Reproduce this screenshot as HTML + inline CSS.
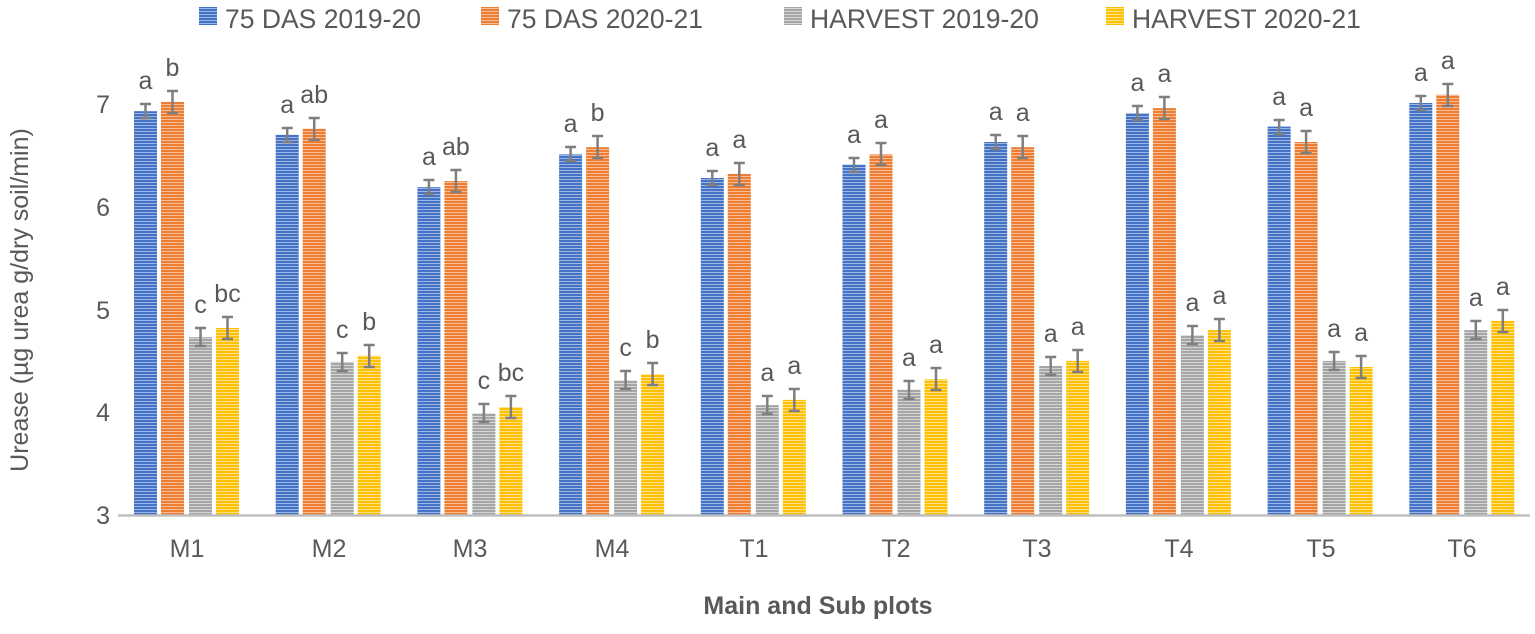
<!DOCTYPE html>
<html><head><meta charset="utf-8"><style>
body{margin:0;background:#fff}
svg text{font-family:"Liberation Sans",sans-serif;fill:#595959}
</style></head><body>
<svg width="1535" height="629" viewBox="0 0 1535 629" xmlns="http://www.w3.org/2000/svg">
<defs>
<pattern id="pb" width="4" height="3" patternUnits="userSpaceOnUse"><rect width="4" height="3" fill="#4472c4"/><rect y="2" width="4" height="1" fill="#9db5e3"/></pattern>
<pattern id="po" width="4" height="3" patternUnits="userSpaceOnUse"><rect width="4" height="3" fill="#ed7d31"/><rect y="2" width="4" height="1" fill="#f6bd98"/></pattern>
<pattern id="pg" width="4" height="3" patternUnits="userSpaceOnUse"><rect width="4" height="3" fill="#a5a5a5"/><rect y="2" width="4" height="1" fill="#d5d5d5"/></pattern>
<pattern id="py" width="4" height="3" patternUnits="userSpaceOnUse"><rect width="4" height="3" fill="#ffc000"/><rect y="2" width="4" height="1" fill="#ffe08a"/></pattern>
</defs>
<!-- legend -->
<rect x="199" y="7" width="18" height="18" fill="url(#pb)"/><text x="225" y="28" font-size="26.5">75 DAS 2019-20</text>
<rect x="481" y="7" width="18" height="18" fill="url(#po)"/><text x="507" y="28" font-size="26.5">75 DAS 2020-21</text>
<rect x="784" y="7" width="18" height="18" fill="url(#pg)"/><text x="810" y="28" font-size="26.5">HARVEST 2019-20</text>
<rect x="1106" y="7" width="18" height="18" fill="url(#py)"/><text x="1132" y="28" font-size="26.5">HARVEST 2020-21</text>
<!-- y ticks -->
<g font-size="25" text-anchor="end">
<text x="110" y="524">3</text><text x="110" y="421">4</text><text x="110" y="319">5</text><text x="110" y="216">6</text><text x="110" y="113">7</text>
</g>
<text transform="translate(28,300) rotate(-90)" font-size="25" text-anchor="middle">Urease (µg urea g/dry soil/min)</text>
<text x="818" y="614" font-size="25" font-weight="bold" text-anchor="middle">Main and Sub plots</text>
<g font-size="25" text-anchor="middle">
<g transform="translate(187,0)">
<rect x="-53" y="111.2" width="23" height="403.8" fill="url(#pb)"/><rect x="-26" y="101.9" width="23" height="413.1" fill="url(#po)"/><rect x="2" y="337.2" width="23" height="177.8" fill="url(#pg)"/><rect x="29" y="328" width="23" height="187" fill="url(#py)"/>
<path d="M-41.5 104v14M-47 104h11M-47 118h11M-14.5 91v22M-20 91h11M-20 113h11M13.5 328v18M8 328h11M8 346h11M40.5 317v22M35 317h11M35 339h11" stroke="#7f7f7f" stroke-width="2.5"/>
<text x="-41.5" y="89">a</text><text x="-14.5" y="76">b</text><text x="13.5" y="313">c</text><text x="40.5" y="302">bc</text>
</g>
<g transform="translate(328.7,0)">
<rect x="-53" y="134.8" width="23" height="380.2" fill="url(#pb)"/><rect x="-26" y="128.7" width="23" height="386.3" fill="url(#po)"/><rect x="2" y="361.9" width="23" height="153.1" fill="url(#pg)"/><rect x="29" y="355.7" width="23" height="159.3" fill="url(#py)"/>
<path d="M-41.5 128v14M-47 128h11M-47 142h11M-14.5 118v22M-20 118h11M-20 140h11M13.5 353v18M8 353h11M8 371h11M40.5 345v22M35 345h11M35 367h11" stroke="#7f7f7f" stroke-width="2.5"/>
<text x="-41.5" y="113">a</text><text x="-14.5" y="103">ab</text><text x="13.5" y="338">c</text><text x="40.5" y="330">b</text>
</g>
<g transform="translate(470.4,0)">
<rect x="-53" y="187.2" width="23" height="327.8" fill="url(#pb)"/><rect x="-26" y="181.1" width="23" height="333.9" fill="url(#po)"/><rect x="2" y="413.3" width="23" height="101.7" fill="url(#pg)"/><rect x="29" y="407.1" width="23" height="107.9" fill="url(#py)"/>
<path d="M-41.5 180v14M-47 180h11M-47 194h11M-14.5 170v22M-20 170h11M-20 192h11M13.5 404v18M8 404h11M8 422h11M40.5 396v22M35 396h11M35 418h11" stroke="#7f7f7f" stroke-width="2.5"/>
<text x="-41.5" y="165">a</text><text x="-14.5" y="155">ab</text><text x="13.5" y="389">c</text><text x="40.5" y="381">bc</text>
</g>
<g transform="translate(612.1,0)">
<rect x="-53" y="154.4" width="23" height="360.6" fill="url(#pb)"/><rect x="-26" y="147.2" width="23" height="367.8" fill="url(#po)"/><rect x="2" y="380.4" width="23" height="134.6" fill="url(#pg)"/><rect x="29" y="374.2" width="23" height="140.8" fill="url(#py)"/>
<path d="M-41.5 147v14M-47 147h11M-47 161h11M-14.5 136v22M-20 136h11M-20 158h11M13.5 371v18M8 371h11M8 389h11M40.5 363v22M35 363h11M35 385h11" stroke="#7f7f7f" stroke-width="2.5"/>
<text x="-41.5" y="132">a</text><text x="-14.5" y="121">b</text><text x="13.5" y="356">c</text><text x="40.5" y="348">b</text>
</g>
<g transform="translate(753.8,0)">
<rect x="-53" y="178" width="23" height="337" fill="url(#pb)"/><rect x="-26" y="173.9" width="23" height="341.1" fill="url(#po)"/><rect x="2" y="405.1" width="23" height="109.9" fill="url(#pg)"/><rect x="29" y="399.9" width="23" height="115.1" fill="url(#py)"/>
<path d="M-41.5 171v14M-47 171h11M-47 185h11M-14.5 163v22M-20 163h11M-20 185h11M13.5 396v18M8 396h11M8 414h11M40.5 389v22M35 389h11M35 411h11" stroke="#7f7f7f" stroke-width="2.5"/>
<text x="-41.5" y="156">a</text><text x="-14.5" y="148">a</text><text x="13.5" y="381">a</text><text x="40.5" y="374">a</text>
</g>
<g transform="translate(895.5,0)">
<rect x="-53" y="164.6" width="23" height="350.4" fill="url(#pb)"/><rect x="-26" y="154.4" width="23" height="360.6" fill="url(#po)"/><rect x="2" y="389.6" width="23" height="125.4" fill="url(#pg)"/><rect x="29" y="379.4" width="23" height="135.6" fill="url(#py)"/>
<path d="M-41.5 158v14M-47 158h11M-47 172h11M-14.5 143v22M-20 143h11M-20 165h11M13.5 381v18M8 381h11M8 399h11M40.5 368v22M35 368h11M35 390h11" stroke="#7f7f7f" stroke-width="2.5"/>
<text x="-41.5" y="143">a</text><text x="-14.5" y="128">a</text><text x="13.5" y="366">a</text><text x="40.5" y="353">a</text>
</g>
<g transform="translate(1037.2,0)">
<rect x="-53" y="142" width="23" height="373" fill="url(#pb)"/><rect x="-26" y="147.2" width="23" height="367.8" fill="url(#po)"/><rect x="2" y="366" width="23" height="149" fill="url(#pg)"/><rect x="29" y="360.9" width="23" height="154.1" fill="url(#py)"/>
<path d="M-41.5 135v14M-47 135h11M-47 149h11M-14.5 136v22M-20 136h11M-20 158h11M13.5 357v18M8 357h11M8 375h11M40.5 350v22M35 350h11M35 372h11" stroke="#7f7f7f" stroke-width="2.5"/>
<text x="-41.5" y="120">a</text><text x="-14.5" y="121">a</text><text x="13.5" y="342">a</text><text x="40.5" y="335">a</text>
</g>
<g transform="translate(1178.9,0)">
<rect x="-53" y="113.2" width="23" height="401.8" fill="url(#pb)"/><rect x="-26" y="108.1" width="23" height="406.9" fill="url(#po)"/><rect x="2" y="335.2" width="23" height="179.8" fill="url(#pg)"/><rect x="29" y="330.1" width="23" height="184.9" fill="url(#py)"/>
<path d="M-41.5 106v14M-47 106h11M-47 120h11M-14.5 97v22M-20 97h11M-20 119h11M13.5 326v18M8 326h11M8 344h11M40.5 319v22M35 319h11M35 341h11" stroke="#7f7f7f" stroke-width="2.5"/>
<text x="-41.5" y="91">a</text><text x="-14.5" y="82">a</text><text x="13.5" y="311">a</text><text x="40.5" y="304">a</text>
</g>
<g transform="translate(1320.6,0)">
<rect x="-53" y="126.6" width="23" height="388.4" fill="url(#pb)"/><rect x="-26" y="142" width="23" height="373" fill="url(#po)"/><rect x="2" y="360.9" width="23" height="154.1" fill="url(#pg)"/><rect x="29" y="367" width="23" height="148" fill="url(#py)"/>
<path d="M-41.5 120v14M-47 120h11M-47 134h11M-14.5 131v22M-20 131h11M-20 153h11M13.5 352v18M8 352h11M8 370h11M40.5 356v22M35 356h11M35 378h11" stroke="#7f7f7f" stroke-width="2.5"/>
<text x="-41.5" y="105">a</text><text x="-14.5" y="116">a</text><text x="13.5" y="337">a</text><text x="40.5" y="341">a</text>
</g>
<g transform="translate(1462.3,0)">
<rect x="-53" y="103" width="23" height="412" fill="url(#pb)"/><rect x="-26" y="94.8" width="23" height="420.2" fill="url(#po)"/><rect x="2" y="330.1" width="23" height="184.9" fill="url(#pg)"/><rect x="29" y="320.8" width="23" height="194.2" fill="url(#py)"/>
<path d="M-41.5 96v14M-47 96h11M-47 110h11M-14.5 84v22M-20 84h11M-20 106h11M13.5 321v18M8 321h11M8 339h11M40.5 310v22M35 310h11M35 332h11" stroke="#7f7f7f" stroke-width="2.5"/>
<text x="-41.5" y="81">a</text><text x="-14.5" y="69">a</text><text x="13.5" y="306">a</text><text x="40.5" y="295">a</text>
</g>
</g>
<line x1="118" y1="515.5" x2="1530" y2="515.5" stroke="#bfbfbf" stroke-width="2.5"/>
<g font-size="25" text-anchor="middle">
<text x="187" y="557">M1</text><text x="329" y="557">M2</text><text x="470" y="557">M3</text><text x="612" y="557">M4</text><text x="754" y="557">T1</text><text x="896" y="557">T2</text><text x="1037" y="557">T3</text><text x="1179" y="557">T4</text><text x="1321" y="557">T5</text><text x="1462" y="557">T6</text>
</g>
</svg>
</body></html>
